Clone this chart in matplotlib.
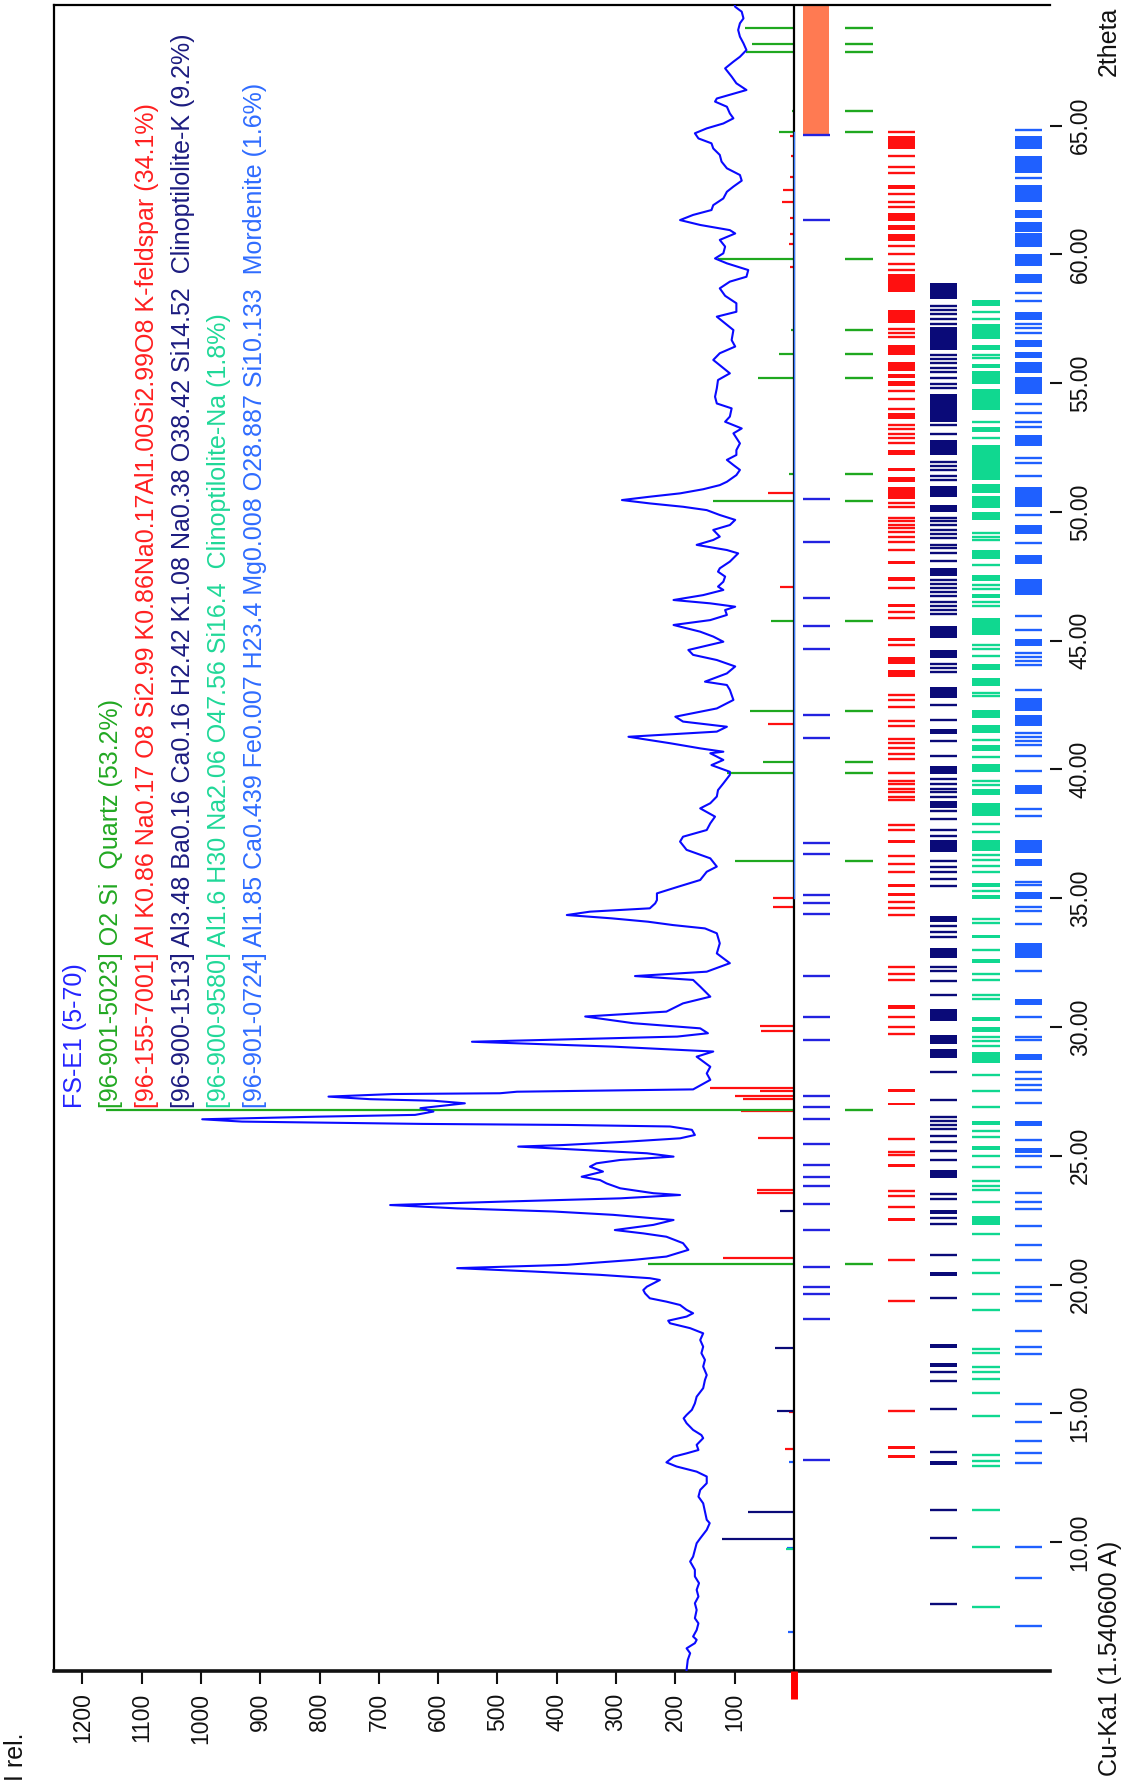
import numpy as np
import matplotlib.pyplot as plt

plt.rcParams['font.family'] = ['Liberation Sans', 'DejaVu Sans']

# --------------------------------
# measured pattern FS-E1 (2theta, counts)
# --------------------------------
two_theta = [
    5.04, 5.43, 5.69, 5.88, 6.08, 6.21, 6.34, 6.59, 6.85, 7.05, 7.37, 7.63, 7.89, 8.15, 8.41,
    8.67, 8.93, 9.25, 9.44, 9.70, 9.96, 10.15, 10.48, 10.74, 10.87, 11.19, 11.51, 11.77, 12.03,
    12.29, 12.55, 12.74, 12.94, 13.10, 13.32, 13.45, 13.58, 13.78, 14.04, 14.16, 14.36, 14.62,
    14.81, 14.94, 15.14, 15.39, 15.65, 15.98, 16.30, 16.49, 16.82, 17.08, 17.34, 17.59, 17.85,
    18.11, 18.31, 18.50, 18.60, 18.76, 18.89, 19.02, 19.21, 19.34, 19.47, 19.66, 19.79,
    19.92, 20.18, 20.25, 20.38, 20.51, 20.64, 20.77, 20.96, 21.09, 21.35, 21.61, 21.86, 21.99,
    22.12, 22.32, 22.51, 22.71, 22.84, 22.96, 23.09, 23.22, 23.35, 23.48, 23.55, 23.74, 23.93,
    24.06, 24.19, 24.39, 24.58, 24.71, 24.84, 24.97, 25.10, 25.23, 25.36, 25.42, 25.55, 25.68,
    25.81, 26.01, 26.14, 26.20, 26.24, 26.33, 26.42, 26.52, 26.59, 26.72, 26.85, 27.04, 27.14,
    27.20, 27.30, 27.40, 27.43, 27.49, 27.58, 27.95, 28.20, 28.46, 28.85, 29.05, 29.24, 29.43,
    29.63, 29.76, 29.95, 30.15, 30.41, 30.60, 30.92, 31.18, 31.57, 31.83, 31.98, 32.15, 32.48,
    32.86, 33.25, 33.64, 33.83, 33.96, 34.09, 34.22, 34.35, 34.48, 34.61, 34.80, 34.93,
    35.19, 35.45, 35.71, 36.03, 36.23, 36.55, 36.88, 37.20, 37.39, 37.65, 37.91, 38.17, 38.49,
    38.69, 38.95, 39.20, 39.46, 39.79, 39.91, 40.17, 40.37, 40.63, 40.69, 40.82, 41.02, 41.27,
    41.47, 41.66, 41.86, 42.05, 42.37, 42.70, 43.09, 43.28, 43.41, 43.73, 44.00, 44.25, 44.45,
    44.64, 44.96, 45.16, 45.35, 45.61, 45.80, 46.00, 46.19, 46.32, 46.45, 46.58, 46.77, 46.97,
    47.10, 47.29, 47.49, 47.68, 47.81, 48.07, 48.39, 48.52, 48.72, 48.91, 49.04, 49.30, 49.49,
    49.69, 49.88, 50.07, 50.20, 50.33, 50.46, 50.59, 50.72, 50.88, 51.04, 51.17, 51.43, 51.63,
    51.82, 52.02, 52.21, 52.40, 52.66, 53.05, 53.24, 53.50, 53.70, 54.02, 54.21, 54.47, 54.80,
    55.12, 55.38, 55.64, 55.90, 56.16, 56.42, 56.67, 57.06, 57.32, 57.58, 57.77, 58.10, 58.39,
    58.68, 58.94, 59.13, 59.39, 59.65, 59.84, 60.04, 60.30, 60.56, 60.81, 60.94, 61.14, 61.33,
    61.53, 61.72, 61.91, 62.17, 62.43, 62.63, 62.86, 63.08, 63.34, 63.60, 63.86, 64.11, 64.31,
    64.50, 64.70, 64.89, 65.08, 65.28, 65.47, 65.73, 65.93, 66.05, 66.38, 66.64, 66.90, 67.22,
    67.48, 67.67, 67.93, 68.19, 68.45, 68.71, 68.97, 69.16, 69.42, 69.61, 69.70,
]
counts = [
    181, 179, 175, 181, 167, 164, 170, 164, 161, 167, 164, 167, 161, 164, 160,
    167, 167, 175, 170, 167, 164, 158, 147, 142, 147, 150, 153, 161, 158,
    147, 147, 164, 198, 215, 203, 181, 161, 164, 153, 156, 170, 181,
    186, 181, 172, 167, 164, 153, 150, 147, 153, 150, 156, 153, 158,
    153, 175, 209, 212, 181, 170, 181, 192, 215, 243, 251, 254,
    248, 226, 243, 327, 440, 568, 383, 271, 215, 178, 187, 215, 254,
    302, 237, 203, 305, 406, 568, 681, 496, 293, 192, 237, 293, 316,
    327, 358, 322, 344, 333, 293, 203, 248, 355, 465, 389, 282, 192,
    167, 172, 209, 383, 627, 931, 998, 805, 639, 608, 630, 555, 608,
    715, 785, 676, 496, 467, 170, 141, 147, 141, 164, 136, 305, 543,
    197, 145, 158, 271, 352, 215, 187, 141, 158, 170, 268, 147, 108,
    130, 125, 130, 150, 204, 246, 307, 383, 344, 243, 234, 231,
    231, 195, 158, 147, 130, 141, 181, 192, 187, 147, 141, 133, 158,
    141, 130, 128, 119, 108, 108, 139, 119, 141, 119, 158, 209, 279,
    130, 113, 187, 200, 130, 102, 108, 113, 150, 113, 99, 130, 170,
    178, 119, 136, 158, 203, 141, 113, 116, 99, 141, 203, 153, 119,
    128, 119, 116, 128, 125, 108, 94, 113, 164, 136, 125, 136, 108,
    99, 125, 147, 187, 243, 290, 243, 192, 153, 125, 113, 97, 91,
    102, 113, 97, 97, 91, 102, 88, 116, 108, 105, 130, 133, 130,
    128, 108, 122, 136, 125, 99, 105, 102, 116, 130, 97, 97, 116,
    125, 108, 80, 77, 113, 133, 119, 116, 125, 99, 108, 158, 192,
    170, 139, 136, 119, 113, 102, 88, 91, 113, 122, 125, 136, 139,
    161, 167, 147, 119, 102, 108, 113, 133, 130, 80, 97, 105, 116,
    102, 91, 80, 85, 91, 94, 91, 85, 88, 99, 100,
]

# --------------------------------
# reference sticks drawn above the zero line (2theta, I)
# --------------------------------
quartz_pos = [68.78, 68.15, 67.87, 65.56, 64.76, 59.82, 57.06, 56.15, 55.19, 51.48, 50.43,
              45.78, 42.29, 40.31, 39.85, 36.43, 26.78, 20.81]
quartz_int = [83, 71, 80, 4, 25, 128, 5, 25, 60, 8, 136, 38, 74, 52, 113, 99, 1161, 246]
kfeld_stick_pos = [64.6, 63.8, 63.0, 62.49, 62.04, 61.4, 60.8, 60.4, 59.5, 50.72, 47.08, 41.78,
                   35.0, 34.68, 30.05, 29.83, 27.64, 27.5, 27.34, 27.2, 26.75, 25.7, 23.69,
                   23.57, 21.05, 15.07, 13.6]
kfeld_stick_int = [6, 5, 6, 18, 20, 6, 7, 8, 6, 44, 23, 44, 36, 36, 57, 56, 141, 57, 99, 86, 90,
                   60, 63, 63, 119, 8, 15]
clinok_stick_pos = [22.86, 17.53, 15.1, 11.19, 10.12]
clinok_stick_int = [24, 32, 28, 77, 121]
mord_stick_pos = [13.1, 9.77, 6.53]
mord_stick_int = [8, 12, 10]
clinona_stick_pos = [9.75]
clinona_stick_int = [14]

# --------------------------------
# phase marker lanes below the zero line
# --------------------------------
peak_marks = [64.65, 61.35, 50.52, 48.83, 46.67, 45.57, 44.69, 42.1, 41.21, 37.16, 36.7, 35.12,
              34.83, 34.4, 31.97, 30.39, 29.48, 27.32, 26.89, 26.43, 25.45, 24.65, 24.19, 23.84,
              23.13, 22.13, 20.7, 19.92, 19.65, 18.65, 13.19]
excluded_range = (64.68, 69.7)

kfeld_lines = [64.76, 63.81, 63.41, 63.14, 62.34, 62.05, 61.84, 60.34, 60.02, 59.62, 59.41,
               57.12, 56.93, 56.78, 54.68, 54.37, 54.01, 53.36, 53.21, 53.04, 52.87, 52.68,
               50.35, 50.2, 49.78, 49.63, 49.51, 49.36, 49.21, 49.04, 48.83, 48.52, 47.04, 46.1,
               45.89, 44.83, 42.9, 42.69, 42.42, 41.89, 41.68, 41.2, 41.01, 40.84, 40.59, 40.42,
               39.85, 39.57, 39.43, 39.26, 39.11, 38.94, 38.8, 37.85, 37.64, 36.64, 36.33, 36.02,
               34.87, 34.63, 34.36, 32.34, 32.07, 31.82, 30.41, 29.99, 29.75, 25.64, 25.16,
               25.02, 23.65, 23.46, 23.03, 20.97, 19.38, 15.08]
kfeld_bands = [(64.09, 64.61), (62.55, 62.68), (61.29, 61.62), (60.93, 61.14), (60.51, 60.78),
               (58.55, 59.22), (57.35, 57.84), (56.09, 56.47), (55.46, 55.82), (55.21, 55.35),
               (54.87, 55.08), (53.61, 53.84), (52.2, 52.41), (51.57, 51.72), (51.15, 51.36),
               (50.52, 50.98), (47.99, 48.1), (47.3, 47.46), (46.31, 46.41), (44.98, 45.11),
               (44.1, 44.37), (43.61, 43.85), (37.14, 37.26), (35.43, 35.54), (35.08, 35.19),
               (30.72, 30.87), (27.49, 27.59), (26.97, 27.07), (24.56, 24.69), (22.49, 22.59),
               (13.61, 13.75), (13.28, 13.4)]

clinok_lines = [57.98, 57.83, 57.67, 57.5, 57.29, 56.09, 55.94, 55.78, 55.57, 55.42, 55.19,
                54.98, 54.83, 53.36, 53.04, 51.95, 51.78, 51.61, 51.4, 51.25, 49.78, 49.63,
                49.51, 49.3, 49.15, 48.98, 48.73, 48.58, 48.41, 48.1, 47.36, 47.2, 47.04, 46.88,
                46.73, 46.52, 46.36, 46.2, 46.04, 44.1, 43.95, 43.78, 42.52, 41.93, 41.09, 40.52,
                39.64, 39.43, 39.26, 39.11, 38.94, 38.38, 38.06, 37.64, 37.41, 36.43, 36.22,
                36.02, 35.75, 35.46, 33.94, 33.69, 33.48, 32.34, 32.18, 31.8, 31.24, 28.26,
                27.16, 26.51, 26.35, 26.2, 26.06, 25.79, 25.54, 25.19, 24.85, 23.5, 23.32, 22.57,
                22.36, 21.16, 19.48, 16.62, 16.26, 15.16, 13.5, 11.24, 10.16, 7.59]
clinok_bands = [(58.26, 58.89), (56.3, 57.19), (53.5, 54.56), (52.2, 52.79), (50.56, 51.0),
                (49.99, 50.26), (47.53, 47.82), (45.09, 45.57), (44.31, 44.62), (42.79, 43.19),
                (41.36, 41.57), (39.83, 40.14), (38.52, 38.77), (36.8, 37.26), (34.09, 34.31),
                (32.7, 33.07), (30.25, 30.72), (29.33, 29.69), (28.8, 29.15), (24.15, 24.46),
                (22.74, 22.9), (20.33, 20.5), (17.55, 17.7), (16.82, 16.97), (12.99, 13.15)]

clinona_lines = [57.77, 57.5, 56.09, 55.99, 53.5, 52.87, 49.19, 49.04, 48.9, 47.95, 47.15, 46.99,
                 46.52, 46.36, 44.83, 44.66, 44.41, 42.98, 42.84, 41.15, 40.48, 39.57, 39.41,
                 37.89, 37.58, 36.68, 36.47, 36.26, 36.02, 35.29, 34.21, 34.04, 33.01, 32.07,
                 31.82, 31.24, 31.08, 29.63, 29.46, 29.27, 28.13, 27.51, 26.89, 25.95, 25.73,
                 25.0, 24.56, 24.02, 23.84, 23.67, 23.21, 21.97, 20.97, 20.45, 19.65, 19.0,
                 17.51, 17.34, 16.82, 16.62, 16.35, 15.79, 14.9, 13.4, 13.15, 12.94, 11.24, 9.81,
                 7.49]
clinona_bands = [(57.98, 58.24), (56.72, 57.31), (56.3, 56.47), (55.57, 55.73), (54.98, 55.46),
                 (53.95, 54.77), (53.1, 53.31), (51.25, 52.58), (50.72, 51.08), (50.14, 50.62),
                 (49.67, 49.99), (48.16, 48.52), (47.32, 47.57), (46.67, 46.83), (45.21, 45.89),
                 (43.85, 44.1), (43.26, 43.57), (42.0, 42.31), (41.42, 41.74), (40.73, 40.94),
                 (39.89, 40.21), (39.01, 39.26), (38.21, 38.69), (36.85, 37.26), (35.43, 35.6),
                 (34.98, 35.12), (33.44, 33.57), (32.49, 32.65), (30.25, 30.41), (29.79, 29.99),
                 (28.61, 29.02), (26.2, 26.37), (25.23, 25.37), (22.32, 22.68)]

mord_lines = [64.82, 62.97, 58.51, 58.2, 57.29, 57.14, 56.95, 54.2, 53.84, 53.5, 53.29, 52.1,
              51.88, 51.4, 49.88, 48.79, 45.95, 45.4, 44.52, 44.36, 44.2, 44.04, 43.09, 41.43,
              41.26, 41.09, 40.94, 40.52, 39.95, 38.48, 38.21, 35.64, 35.5, 34.67, 34.52, 34.0,
              32.18, 30.39, 29.63, 29.48, 28.24, 27.97, 27.76, 27.57, 27.05, 25.62, 24.98, 24.56,
              23.57, 23.21, 22.94, 22.26, 21.53, 20.97, 19.92, 19.65, 19.38, 18.21, 17.59, 17.3,
              15.37, 14.65, 13.92, 13.46, 13.09, 9.81, 8.63, 6.76]
mord_bands = [(64.09, 64.61), (63.14, 63.81), (62.05, 62.68), (61.41, 61.73), (60.87, 61.24),
              (60.3, 60.82), (59.56, 60.02), (58.89, 59.25), (57.46, 57.77), (56.41, 56.66),
              (55.99, 56.2), (55.4, 55.82), (54.56, 55.25), (52.56, 52.98), (50.2, 50.98),
              (49.15, 49.51), (47.99, 48.31), (46.79, 47.4), (44.79, 45.05), (42.27, 42.77),
              (41.68, 42.1), (39.05, 39.41), (36.74, 37.26), (36.26, 36.53), (34.98, 35.25),
              (32.7, 33.26), (30.87, 31.1), (28.71, 28.96), (26.16, 26.37), (25.12, 25.29)]

legend_texts = [
    "FS-E1 (5-70)",
    "[96-901-5023] O2 Si  Quartz (53.2%)",
    "[96-155-7001] Al K0.86 Na0.17 O8 Si2.99 K0.86Na0.17Al1.00Si2.99O8 K-feldspar (34.1%)",
    "[96-900-1513] Al3.48 Ba0.16 Ca0.16 H2.42 K1.08 Na0.38 O38.42 Si14.52  Clinoptilolite-K (9.2%)",
    "[96-900-9580] Al1.6 H30 Na2.06 O47.56 Si16.4  Clinoptilolite-Na (1.8%)",
    "[96-901-0724] Al1.85 Ca0.439 Fe0.007 H23.4 Mg0.008 O28.887 Si10.133  Mordenite (1.6%)",
]

# colores
C_PAT = '#0a0aff'
C_QZ = '#1fa81f'
C_KF = '#ff1010'
C_CK = '#0a0a78'
C_CN = '#10d890'
C_MO = '#1f60ff'
C_MARK = '#2222e0'
C_EXCL = '#ff7a52'
legend_colors = ['#2424ff', '#22a822', '#ff2020', '#1c1c80', '#20d898', '#2f6cff']

# --------------------------------
# figure
# --------------------------------
W, H = 1131, 1791
fig = plt.figure(figsize=(W / 100, H / 100), dpi=100)
ax = fig.add_axes([54 / W, 1 - 1671 / H, 996 / W, 1666 / H])
ax.set_xlim(1248, -432)
ax.set_ylim(5.0, 69.68)

# pattern
ax.plot(counts, two_theta, color=C_PAT, lw=1.5, zorder=3)

# sticks above zero
def sticks(pos, inten, color, lw=1.6):
    ax.hlines(pos, 0, inten, color=color, lw=lw, zorder=2)

sticks(kfeld_stick_pos, kfeld_stick_int, C_KF)
sticks(clinok_stick_pos, clinok_stick_int, C_CK)
sticks(mord_stick_pos, mord_stick_int, C_MO)
sticks(clinona_stick_pos, clinona_stick_int, C_CN)
sticks(quartz_pos, quartz_int, C_QZ)

# zero line
ax.axvline(0, color='black', lw=1.6, zorder=4)
ax.plot([0, 0], [35.0, 64.75], color='#3a7cff', lw=1.0, zorder=5)

# lanes
LANE_W = 46
def lane_left(k):
    return -15.2 - 71.5 * k

def lane(k, lines, bands, color):
    x0 = lane_left(k)
    ax.hlines(lines, x0 - LANE_W, x0, color=color, lw=1.7, zorder=2)
    if bands:
        lo = np.array([b[0] for b in bands])
        hi = np.array([b[1] for b in bands])
        ax.barh((lo + hi) / 2, LANE_W, height=hi - lo, left=x0 - LANE_W,
                color=color, lw=0, zorder=2)

ax.barh(sum(excluded_range) / 2, LANE_W - 2, height=excluded_range[1] - excluded_range[0],
        left=lane_left(0) - LANE_W + 2, color=C_EXCL, lw=0, zorder=1)
lane(0, peak_marks, None, C_MARK)
lane(1, quartz_pos, None, C_QZ)
lane(2, kfeld_lines, kfeld_bands, C_KF)
lane(3, clinok_lines, clinok_bands, C_CK)
lane(4, clinona_lines, clinona_bands, C_CN)
lane(5, mord_lines, mord_bands, C_MO)

# red mark at origin
ax.plot([0, 0], [5.0, 3.9], color='red', lw=5, clip_on=False, solid_capstyle='butt', zorder=6)

# frame
ax.spines['right'].set_visible(False)
for s in ['left', 'top']:
    ax.spines[s].set_linewidth(1.6)
    ax.spines[s].set_color('black')
ax.spines['bottom'].set_linewidth(2.6)
ax.spines['bottom'].set_color('#111111')

ax.set_xticks(range(100, 1300, 100))
ax.tick_params(axis='x', direction='out', length=9.5, width=1.5, pad=6,
               labelsize=16.5, labelrotation=90, colors='#111111')
ax.yaxis.tick_right()
yt = list(range(10, 70, 5))
ax.set_yticks(yt)
ax.set_yticklabels([f"{t:.2f}" for t in yt])
ax.tick_params(axis='y', direction='out', length=8.5, width=1.5, pad=5,
               labelsize=16.5, labelrotation=90, colors='#111111')
for lbl in ax.get_yticklabels():
    lbl.set_va('center')

# legend texts (rotated)
legend_x = [75, 111, 147, 183, 219, 255]
for x, s, c in zip(legend_x, legend_texts, legend_colors):
    fig.text(x / W, 1 - 1108 / H, s, rotation=90, ha='center', va='bottom',
             color=c, fontsize=18)

fig.text(1109 / W, 1 - 7 / H, "2theta", rotation=90, ha='center', va='top',
         color='#111111', fontsize=18)
fig.text(1110 / W, 1 - 1776 / H, "Cu-Ka1 (1.540600 A)", rotation=90, ha='center',
         va='bottom', color='#111111', fontsize=18)
fig.text(16 / W, 1 - 1781 / H, "I rel.", rotation=90, ha='center', va='bottom',
         color='#111111', fontsize=18)

fig.savefig('out.png', dpi=100)
